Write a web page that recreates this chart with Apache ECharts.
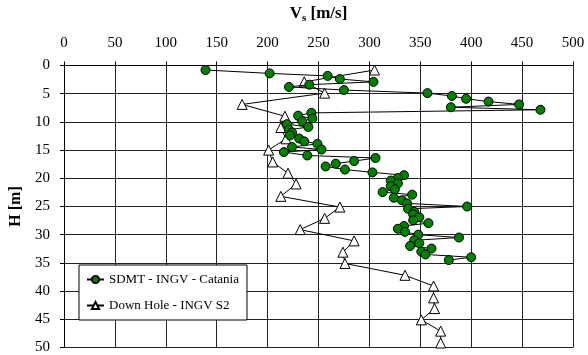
<!DOCTYPE html>
<html>
<head>
<meta charset="utf-8">
<script src="https://cdn.jsdelivr.net/npm/echarts@6/dist/echarts.min.js"></script>
<style>
  html, body { margin: 0; padding: 0; background: #fff; }
  #chart { width: 588px; height: 355px; }
</style>
</head>
<body>
<div id="chart"></div>
<script>
// SDMT profile (depth in m, shear-wave velocity in m/s)
const sdmtDepth = [0.8, 1.4, 1.85, 2.4, 2.9, 3.4, 3.8, 4.35, 4.9, 5.4, 5.9, 6.4, 6.9, 7.4, 7.85,
  8.4, 8.9, 9.4, 9.9, 10.4, 10.9, 11.4, 11.9, 12.4, 12.95, 13.45, 13.9, 14.45, 14.9, 15.35, 15.95,
  16.4, 16.95, 17.4, 17.9, 18.45, 18.95, 19.45, 19.95, 20.4, 20.9, 21.4, 21.95, 22.45, 22.9, 23.45,
  23.9, 24.45, 25.0, 25.4, 25.95, 26.4, 26.9, 27.45, 27.95, 28.45, 28.95, 29.5, 30.0, 30.5, 31.0,
  31.5, 32.0, 32.45, 33.0, 33.5, 34.0, 34.5];
const sdmtVs = [139, 202, 259, 271, 304, 241, 221, 275, 357, 381, 395, 417, 447, 380, 468,
  243, 230, 244, 234, 219, 240, 221, 224, 222, 231, 236, 249, 224, 253, 216, 239,
  306, 285, 267, 257, 276, 303, 334, 328, 321, 328, 321, 325, 313, 342, 324,
  332, 337, 396, 338, 344, 343, 349, 343, 358, 334, 328, 335, 348, 388, 344,
  349, 340, 361, 351, 355, 400, 378];

// Down-hole profile
const dhDepth = [0.8, 2.9, 4.9, 6.9, 9.0, 11.0, 13.0, 15.0, 17.1, 19.1, 21.0, 23.2, 25.1, 27.1,
  29.1, 31.1, 33.1, 35.1, 37.2, 39.1, 41.2, 43.1, 45.1, 47.1, 49.2];
const dhVs = [305, 236, 256, 175, 217, 213, 218, 201, 205, 220, 228, 213, 271, 256,
  232, 285, 274, 276, 335, 363, 363, 364, 351, 370, 370];

// Axis ticks
const vsTicks = { min: 0, max: 500, step: 50 };
const depthTicks = { min: 0, max: 50, step: 5 };

const seriesNames = ['SDMT - INGV - Catania', 'Down Hole - INGV S2'];

const serif = "'Liberation Serif', 'Times New Roman', serif";

const pairs = (xs, ys) => xs.map((x, i) => [x, ys[i]]);

const chart = echarts.init(document.getElementById('chart'), null, { renderer: 'canvas' });

chart.setOption({
  animation: false,
  backgroundColor: '#fff',
  textStyle: { fontFamily: serif, color: '#000' },
  grid: { left: 63, right: 15, top: 63, bottom: 6, containLabel: false },
  legend: {
    orient: 'vertical',
    left: 79,
    top: 265,
    padding: [8, 8, 8, 7],
    itemGap: 13,
    itemWidth: 17,
    itemHeight: 9,
    backgroundColor: '#fff',
    borderColor: '#000',
    borderWidth: 1,
    borderRadius: 0,
    textStyle: { fontFamily: serif, fontSize: 13, color: '#000' },
    data: seriesNames
  },
  xAxis: {
    type: 'value',
    position: 'top',
    min: vsTicks.min,
    max: vsTicks.max,
    interval: vsTicks.step,
    name: '{b|V}{s|s}{b| [m/s]}',
    nameLocation: 'middle',
    nameGap: 42,
    nameTextStyle: {
      rich: {
        b: { fontFamily: serif, fontSize: 17, fontWeight: 'bold', color: '#000' },
        s: { fontFamily: serif, fontSize: 11, fontWeight: 'bold', color: '#000', padding: [9, 0, 0, 0] }
      }
    },
    axisLine: { show: true, lineStyle: { color: '#000', width: 1 } },
    axisTick: { show: true, inside: false, length: 4, lineStyle: { color: '#000' } },
    axisLabel: { fontFamily: serif, fontSize: 15, color: '#000', margin: 15 },
    splitLine: { show: true, lineStyle: { color: '#222', width: 1 } }
  },
  yAxis: {
    type: 'value',
    inverse: true,
    min: depthTicks.min,
    max: depthTicks.max,
    interval: depthTicks.step,
    name: 'H [m]',
    nameLocation: 'middle',
    nameGap: 40,
    nameRotate: 90,
    nameTextStyle: { fontFamily: serif, fontSize: 16, fontWeight: 'bold', color: '#000' },
    axisLine: { show: true, lineStyle: { color: '#000', width: 1 } },
    axisTick: { show: true, inside: false, length: 4, lineStyle: { color: '#000' } },
    axisLabel: { fontFamily: serif, fontSize: 15, color: '#000', margin: 14 },
    splitLine: { show: true, lineStyle: { color: '#222', width: 1 } }
  },
  series: [
    {
      name: seriesNames[0],
      type: 'line',
      data: pairs(sdmtVs, sdmtDepth),
      symbol: 'circle',
      symbolSize: 9,
      showAllSymbol: true,
      lineStyle: { color: '#000', width: 1 },
      itemStyle: { color: '#008000', borderColor: '#000', borderWidth: 1 },
      z: 3
    },
    {
      name: seriesNames[1],
      type: 'line',
      data: pairs(dhVs, dhDepth),
      symbol: 'triangle',
      symbolSize: 10,
      showAllSymbol: true,
      lineStyle: { color: '#000', width: 1 },
      itemStyle: { color: '#fff', borderColor: '#000', borderWidth: 1 },
      z: 2
    }
  ]
});
</script>
</body>
</html>
